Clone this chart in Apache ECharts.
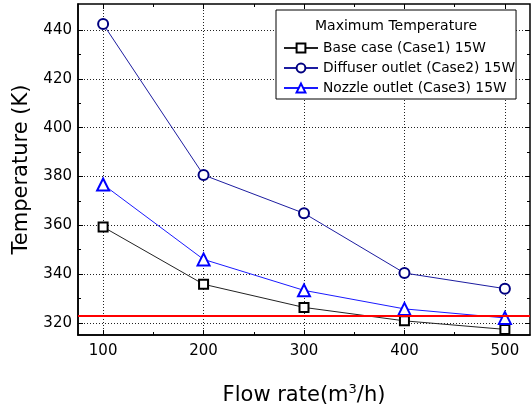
<!DOCTYPE html>
<html><head><meta charset="utf-8">
<script src="https://cdn.jsdelivr.net/npm/echarts@6/dist/echarts.min.js"></script>
<style>html,body{margin:0;padding:0;background:#fff}#c{width:531px;height:409px}</style>
</head><body><div id="c"></div>
<script>
const flowRates = [100, 200, 300, 400, 500];
const case1 = [359.3, 335.8, 326.3, 320.8, 317.3];
const case2 = [442.5, 380.6, 364.9, 340.4, 334.0];
const case3 = [376.7, 346.0, 333.3, 325.7, 322.0];
const limitTemp = 323;
const seriesNames = ['Base case (Case1) 15W', 'Diffuser outlet (Case2) 15W', 'Nozzle outlet (Case3) 15W'];
const legendTitle = 'Maximum Temperature';
const xTicks = [100, 200, 300, 400, 500];
const xMinorTicks = [150, 250, 350, 450];
const yTicks = [320, 340, 360, 380, 400, 420, 440];
const yMinorTicks = [330, 350, 370, 390, 410, 430];

const FONT = 'DejaVu Sans';
const X_MIN = 75, X_MAX = 525, Y_MIN = 315, Y_MAX = 450.7;

function pairs(ys) { return flowRates.map((x, i) => [x, ys[i]]); }

function tickAxis(kind, pos, values, len, showGrid, showLabels, extra) {
  const a = {
    type: 'value', gridIndex: 0, position: pos,
    min: kind === 'x' ? X_MIN : Y_MIN, max: kind === 'x' ? X_MAX : Y_MAX,
    axisLine: { show: false },
    axisTick: { show: true, inside: true, length: len, customValues: values, lineStyle: { color: '#000', width: 1 } },
    axisLabel: { show: showLabels, customValues: values, color: '#000', fontFamily: FONT, fontSize: 15 },
    splitLine: { show: showGrid, lineStyle: { color: '#222', type: [1, 2], width: 1 } },
    minorTick: { show: false }, minorSplitLine: { show: false }
  };
  return Object.assign(a, extra || {});
}

const chart = echarts.init(document.getElementById('c'), null, { renderer: 'canvas' });
const mk = (name, ys, symbol, size, color, lineColor) => ({
  name, type: 'line', xAxisIndex: 0, yAxisIndex: 0,
  data: pairs(ys), symbol, symbolSize: size, showAllSymbol: true,
  lineStyle: { color: lineColor, width: 1 },
  itemStyle: { color: '#fff', borderColor: color, borderWidth: 2 },
  emphasis: { disabled: true }, animation: false, z: 3
});

const s1 = mk(seriesNames[0], case1, 'rect', 9, '#000', '#222');
const s2 = mk(seriesNames[1], case2, 'circle', 10, '#000080', '#1c1ca0');
const s3 = mk(seriesNames[2], case3, 'triangle', 12, '#0000ff', '#1a1aff');
s1.markLine = {
  silent: true, symbol: ['none', 'none'], label: { show: false },
  lineStyle: { color: '#ff0000', width: 2, type: 'solid' },
  data: [{ yAxis: limitTemp }], animation: false
};

chart.setOption({
  animation: false,
  backgroundColor: '#fff',
  textStyle: { fontFamily: FONT },
  grid: { left: 78, right: 1, top: 4, bottom: 74, show: true, borderColor: '#000', borderWidth: 1.5,
    containLabel: false, outerBoundsMode: 'none' },
  title: {
    text: legendTitle, left: 315, top: 19, padding: 0,
    textStyle: { fontFamily: FONT, fontSize: 14, fontWeight: 'normal', color: '#000' }
  },
  legend: {
    orient: 'vertical', left: 276, top: 10,
    padding: [31, 1, 4, 7], itemGap: 6, itemWidth: 34, itemHeight: 11,
    borderColor: '#000', borderWidth: 1, backgroundColor: '#fff',
    textStyle: { fontFamily: FONT, fontSize: 13.8, color: '#000' },
    data: seriesNames, selectedMode: false
  },
  xAxis: [
    Object.assign(tickAxis('x', 'bottom', xTicks, 5, true, true), {
      axisLine: { show: true, onZero: false, lineStyle: { color: '#000', width: 1.5 } },
      axisLabel: { show: true, customValues: xTicks, color: '#000', fontFamily: FONT, fontSize: 15, margin: 9 },
      name: 'Flow rate(m{sup|3}/h)', nameLocation: 'middle', nameGap: 48,
      nameTextStyle: { fontFamily: FONT, fontSize: 21, color: '#000', lineHeight: 26,
        rich: { sup: { fontFamily: FONT, fontSize: 13, verticalAlign: 'top', lineHeight: 22, color: '#000' } } }
    }),
    tickAxis('x', 'bottom', xMinorTicks, 3, false, false),
    tickAxis('x', 'top', xTicks, 5, false, false),
    tickAxis('x', 'top', xMinorTicks, 3, false, false)
  ],
  yAxis: [
    Object.assign(tickAxis('y', 'left', yTicks, 5, true, true), {
      axisLine: { show: true, onZero: false, lineStyle: { color: '#000', width: 1.5 } },
      axisLabel: { show: true, customValues: yTicks, color: '#000', fontFamily: FONT, fontSize: 15, margin: 6 },
      name: 'Temperature (K)', nameLocation: 'middle', nameGap: 46,
      nameTextStyle: { fontFamily: FONT, fontSize: 21, color: '#000' }
    }),
    tickAxis('y', 'left', yMinorTicks, 3, false, false),
    tickAxis('y', 'right', yTicks, 5, false, false),
    tickAxis('y', 'right', yMinorTicks, 3, false, false)
  ],
  series: [s1, s2, s3]
});
</script></body></html>
